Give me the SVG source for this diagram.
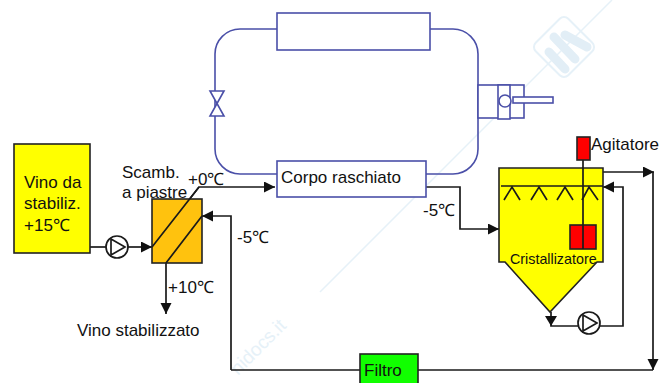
<svg xmlns="http://www.w3.org/2000/svg" width="661" height="383" viewBox="0 0 661 383">
<style>
text{font-family:"Liberation Sans",Arial,sans-serif;font-size:17px;fill:#111}
.k{fill:none;stroke:#1a1a1a;stroke-width:1.7}
.b{fill:none;stroke:#4a4fa8;stroke-width:1.6}
.bw{fill:#fff;stroke:#4a4fa8;stroke-width:1.6}
.box{stroke:#222;stroke-width:1.6}
.wm{fill:none;stroke:#e6f1f8;stroke-width:1.5}
</style>
<defs>
<marker id="a" markerUnits="userSpaceOnUse" markerWidth="12" markerHeight="12" refX="11" refY="5.5" orient="auto"><path d="M0 0L11 5.5L0 11Z" fill="#111"/></marker>
</defs>
<rect width="661" height="383" fill="#fff"/>
<g id="watermark">
<path class="wm" d="M320 292L612 0"/>
<rect x="541" y="24" width="46" height="46" rx="6" transform="rotate(45 564 47)" class="wm" style="stroke-width:2"/>
<path d="M549 52L565 69M554 37L575 59M565 35L587 47" stroke="#e2eef6" stroke-width="9" stroke-linecap="round" fill="none"/>
<text x="238" y="376" transform="rotate(-45 238 376)" style="fill:#e6f1f8;font-size:19px">nidocs.it</text>
</g>
<g id="connectors">
<path class="b" d="M277 29H240A25 25 0 0 0 215 54V149A25 25 0 0 0 240 174H277"/>
<path class="b" d="M430 29H453A25 25 0 0 1 478 54V149A25 25 0 0 1 453 174H426"/>
<path class="k" d="M90 247H106"/>
<path class="k" d="M128 247H152" marker-end="url(#a)"/>
<path class="k" d="M152 247L199 187H275" marker-end="url(#a)"/>
<path class="k" d="M231 370V216H202" marker-end="url(#a)"/>
<path class="k" d="M202 216L166 263V314" marker-end="url(#a)"/>
<path class="k" d="M426 187H460V229H499" marker-end="url(#a)"/>
<path class="k" d="M603 172H654" marker-end="url(#a)"/>
<path class="k" d="M653 172V370" marker-end="url(#a)"/>
<path class="k" d="M653 370H418M360 370H231"/>
<path class="k" d="M600 326H623V187H603" marker-end="url(#a)"/>
<path class="k" d="M578 326H551V312"/>
</g>
<g id="vino"><rect class="box" x="14" y="144" width="76" height="109" fill="#ff0"/><text x="24" y="188">Vino da</text><text x="24" y="209">stabiliz.</text><text x="24" y="231">+15℃</text></g>
<g id="pompa1"><circle class="k" cx="117" cy="247" r="11" style="fill:#fff"/><path class="k" d="M111 239L125 247L111 255Z"/></g>
<g id="scambiatore"><rect class="box" x="152" y="199" width="50" height="64" fill="#ffc20e"/><path class="k" d="M152 247L199 187M166 263L202 216"/><text x="122" y="178">Scamb.</text><text x="122" y="198">a piastre</text><text x="188" y="185">+0℃</text><text x="168" y="293">+10℃</text><text x="237" y="243">-5℃</text><text x="77" y="336">Vino stabilizzato</text></g>
<g id="condensatore"><rect class="bw" x="277" y="13" width="153" height="37"/></g>
<g id="valvola"><path class="bw" d="M210 91H224L210 116H224Z"/></g>
<g id="compressore"><rect class="bw" x="478" y="85" width="46" height="33"/><rect class="bw" x="498" y="85" width="12" height="34"/><circle class="bw" cx="505" cy="101" r="6"/><rect class="bw" x="513" y="97" width="40" height="6"/></g>
<g id="corpo"><rect class="bw" x="277" y="161" width="149" height="36"/><text x="281" y="183">Corpo raschiato</text></g>
<text x="423" y="216">-5℃</text>
<g id="cristallizzatore"><path class="box" d="M499 168H603V262L597 262L550 312L505 262H499Z" fill="#ff0"/>
<path class="k" d="M501 186H603"/>
<path class="k" d="M504 200L512 187L520 200M531 200L539 187L547 200M557 200L565 187L573 200M582 200L589 187L598 200"/>
<rect class="box" x="570" y="225" width="26" height="24" fill="#f00"/><path class="k" d="M583 160V249"/>
<rect class="box" x="577" y="137" width="13" height="23" fill="#f00"/>
<text x="510" y="264" style="font-size:14.3px">Cristallizatore</text><text x="591" y="150">Agitatore</text></g>
<path d="M551 326L545 316H557Z" fill="#111"/>
<g id="pompa2"><circle class="k" cx="589" cy="323" r="11" style="fill:#fff"/><path class="k" d="M583 315L597 323L583 331Z"/></g>
<g id="filtro"><rect class="box" x="360" y="354" width="58" height="32" fill="#1f0"/><text x="364" y="376">Filtro</text></g>
</svg>
